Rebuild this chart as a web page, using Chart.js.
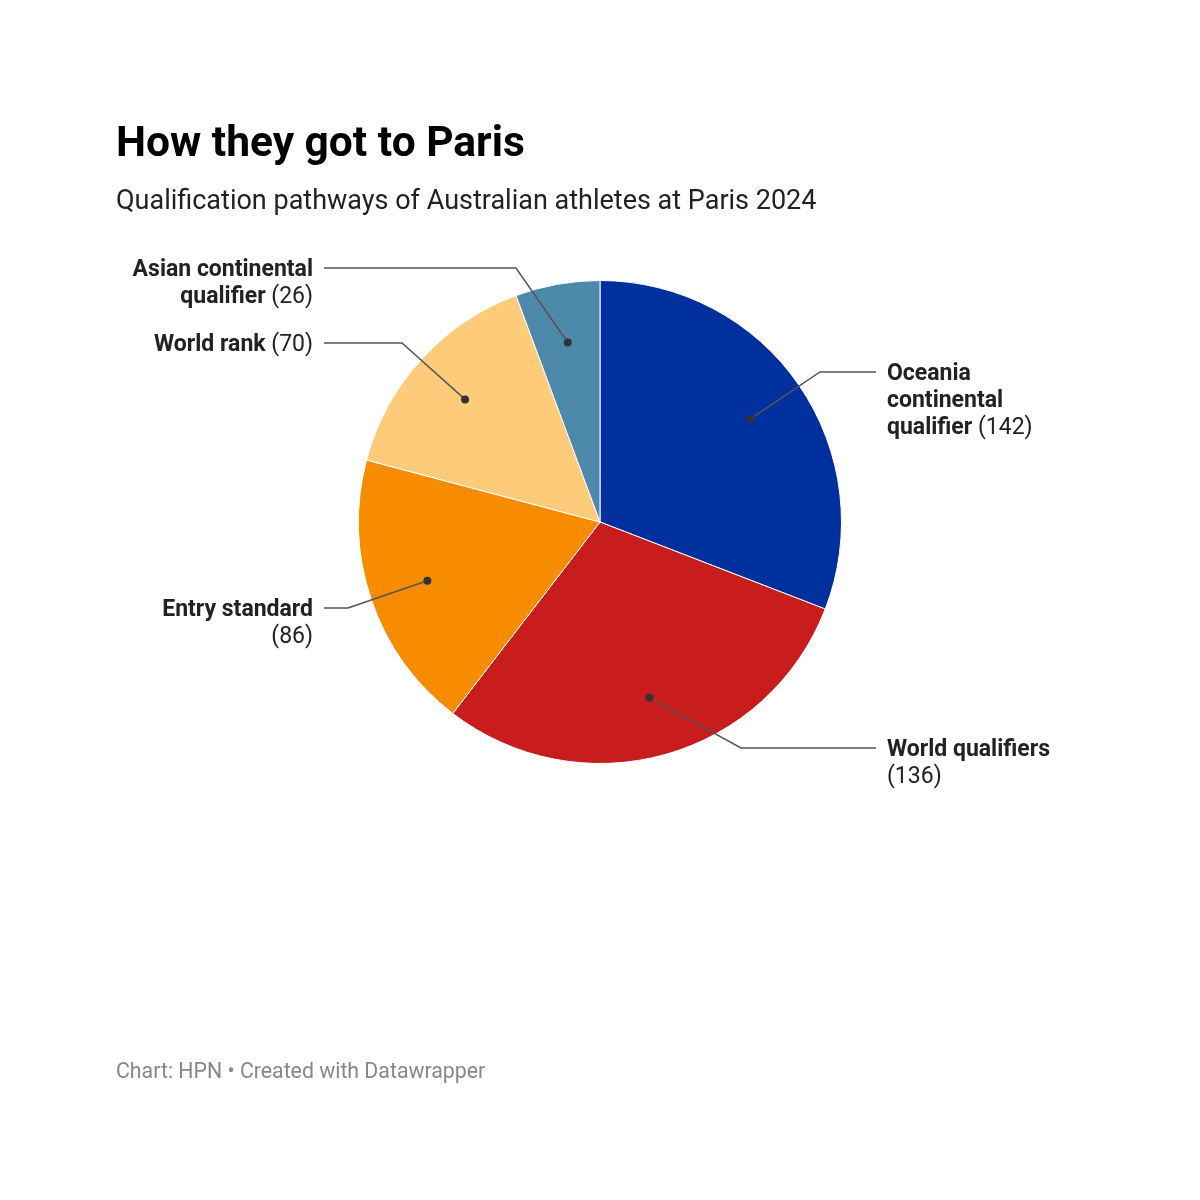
<!DOCTYPE html>
<html>
<head>
<meta charset="utf-8">
<script src="https://cdn.jsdelivr.net/npm/chart.js@4.4.1/dist/chart.umd.min.js"></script>
<style>
  html, body { margin: 0; padding: 0; background: #fff; }
  #wrap { position: relative; width: 1200px; height: 1200px; }
</style>
</head>
<body>
<div id="wrap"><canvas id="myChart" width="1200" height="1200"></canvas></div>
<script>
const categories = ["Oceania continental qualifier", "World qualifiers", "Entry standard", "World rank", "Asian continental qualifier"];
const athletes = [142, 136, 86, 70, 26];
const sliceColors = ["#002f9e", "#c81c1d", "#f78c00", "#fecb7a", "#4c89aa"];

// label placement: side, y of first text line, x of the leader elbow
const labelSide = ["right", "right", "left", "left", "left"];
const labelY = [372, 748, 608, 343, 268];
const elbowX = [820, 741, 348, 402, 516];

const FONT = "Roboto, 'Noto Sans', sans-serif";
const LABEL_SIZE = "23px ";

function wrapTokens(ctx, name, val, maxW){
  // tokens: words of name in bold, value normal
  const tokens = name.split(" ").map(w => ({t: w, b: true}));
  tokens.push({t: "(" + val + ")", b: false});
  const lines = [];
  let cur = [];
  const width = arr => {
    let w = 0;
    arr.forEach((tk, i) => {
      ctx.font = (tk.b ? "bold " : "") + LABEL_SIZE + FONT;
      w += ctx.measureText((i ? " " : "") + tk.t).width;
    });
    return w;
  };
  tokens.forEach(tk => {
    if (cur.length && width(cur.concat([tk])) > maxW) { lines.push(cur); cur = [tk]; }
    else cur.push(tk);
  });
  if (cur.length) lines.push(cur);
  return {lines, width};
}

const labelsPlugin = {
  id: 'pieLabels',
  afterDraw(chart){
    const ctx = chart.ctx;
    ctx.save();
    // title, subtitle, footer
    ctx.textBaseline = "alphabetic";
    ctx.textAlign = "left";
    ctx.fillStyle = "#000";
    ctx.font = "bold 42.5px " + FONT;
    ctx.fillText("How they got to Paris", 116, 156);
    ctx.fillStyle = "#222";
    ctx.font = "27px " + FONT;
    ctx.fillText("Qualification pathways of Australian athletes at Paris 2024", 116, 209);
    ctx.fillStyle = "#888";
    ctx.font = "21.3px " + FONT;
    ctx.fillText("Chart: HPN \u2022 Created with Datawrapper", 116, 1078);

    const meta = chart.getDatasetMeta(0);
    meta.data.forEach((arc, i) => {
      const p = arc.getProps(['x', 'y', 'startAngle', 'endAngle', 'outerRadius'], true);
      const mid = (p.startAngle + p.endAngle) / 2;
      const r = p.outerRadius * 0.755;
      const dx = p.x + Math.cos(mid) * r;
      const dy = p.y + Math.sin(mid) * r;
      const right = labelSide[i] === "right";
      const textX = right ? 887 : 313;
      const lineEnd = right ? textX - 11 : textX + 11;
      const y0 = labelY[i];

      ctx.strokeStyle = "#555";
      ctx.lineWidth = 1.5;
      ctx.beginPath();
      ctx.moveTo(dx, dy);
      ctx.lineTo(elbowX[i], y0);
      ctx.lineTo(lineEnd, y0);
      ctx.stroke();
      ctx.fillStyle = "#333";
      ctx.beginPath();
      ctx.arc(dx, dy, 4, 0, Math.PI * 2);
      ctx.fill();

      const wr = wrapTokens(ctx, categories[i], athletes[i], 186);
      ctx.textBaseline = "middle";
      ctx.textAlign = "left";
      ctx.fillStyle = "#222";
      wr.lines.forEach((line, li) => {
        const w = wr.width(line);
        let x = right ? textX : textX - w;
        const y = y0 + 2 + li * 27;
        line.forEach((tk, k) => {
          ctx.font = (tk.b ? "bold " : "") + LABEL_SIZE + FONT;
          const s = (k ? " " : "") + tk.t;
          ctx.fillText(s, x, y);
          x += ctx.measureText(s).width;
        });
      });
    });
    ctx.restore();
  }
};

const ctx = document.getElementById('myChart').getContext('2d');
new Chart(ctx, {
  type: 'pie',
  data: {
    labels: categories,
    datasets: [{
      data: athletes,
      backgroundColor: sliceColors,
      borderColor: "#ffffff",
      borderWidth: 1
    }]
  },
  options: {
    responsive: false,
    animation: false,
    devicePixelRatio: 1,
    layout: { padding: { left: 358, right: 358, top: 280, bottom: 436 } },
    plugins: {
      legend: { display: false },
      tooltip: { enabled: false }
    }
  },
  plugins: [labelsPlugin]
});
</script>
</body>
</html>
